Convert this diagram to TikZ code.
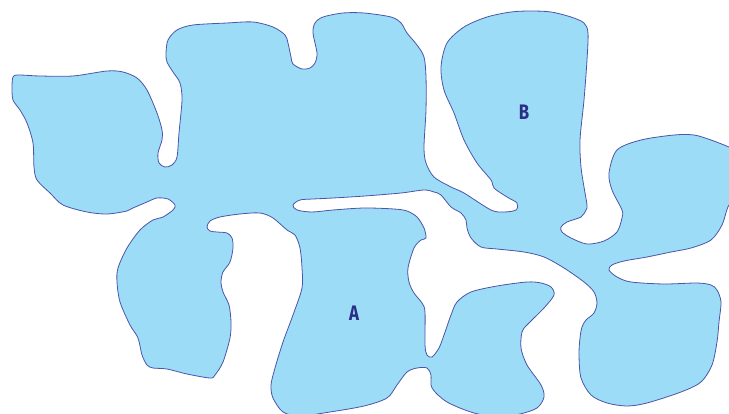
\documentclass[tikz,border=0pt]{standalone}
\usepackage{fontspec}
\newfontfamily\lblfont[FakeStretch=0.8]{Fira Sans}
\definecolor{waterfill}{HTML}{9DDCF7}
\definecolor{waterline}{HTML}{4A55A8}
\definecolor{lbltext}{HTML}{2A2E85}
\begin{document}
\begin{tikzpicture}[x=1pt,y=-1pt,
  water/.style={fill=waterfill,draw=waterline,line width=0.8pt,line join=round},
  lbl/.style={font=\lblfont\bfseries\fontsize{21}{21}\selectfont,text=lbltext,inner sep=0pt}]
\useasboundingbox (0,0) rectangle (729,414);
\clip (0,0) rectangle (729,414);
\draw[water] plot[smooth cycle,tension=0.5] coordinates {
(18,75)(40,76)(73,76)(107,71)(123,72)(137,78)(147,90)(157,113)(162,130)(162,140)(158,153)(159,163)(165,167)(172,165)(177,157)(179,133)(182,100)(180,83)(173,72)(167,62)(166,53)(168,40)(177,30)(193,25)(227,23)(253,22)(273,27)(285,35)(288,43)(291,57)(293,64)(302,69)(310,68)(315,63)(317,53)(313,33)(315,23)(323,17)(343,13)(364,13)(391,17)(401,23)(407,33)(417,45)(424,57)(426,77)(426,110)(424,147)(426,163)(434,177)(451,187)(464,193)(491,210)(504,212)(516,210)(517,203)(507,197)(494,188)(491,180)(477,163)(464,140)(454,113)(444,90)(441,67)(447,43)(464,27)(487,17)(511,12)(531,11)(551,12)(571,17)(584,23)(588,33)(587,60)(584,100)(580,140)(581,167)(584,187)(587,205)(586,210)(581,217)(567,222)(561,227)(562,232)(571,238)(587,244)(604,241)(617,232)(622,218)(622,210)(612,190)(609,173)(617,150)(641,140)(674,135)(694,135)(711,140)(729,147)(740,152)(740,200)(729,205)(722,225)(711,240)(691,248)(671,252)(647,257)(624,261)(612,265)(609,270)(617,277)(631,282)(664,284)(697,283)(711,285)(717,290)(721,302)(719,322)(717,342)(712,365)(701,382)(681,392)(647,403)(627,406)(607,403)(591,395)(581,378)(579,355)(580,338)(582,327)(586,320)(594,313)(597,303)(594,292)(584,282)(564,268)(544,257)(524,252)(497,249)(481,247)(471,238)(467,228)(466,220)(461,213)(451,207)(441,195)(434,192)(424,190)(401,193)(365,196)(333,198)(313,199)(300,200)(293,205)(297,210)(312,212)(333,210)(364,208)(394,209)(407,211)(417,217)(424,228)(426,238)(421,240)(414,248)(408,268)(409,282)(414,293)(422,303)(425,312)(425,345)(427,355)(432,357)(439,348)(444,335)(451,315)(457,302)(471,292)(497,286)(527,282)(541,283)(551,287)(554,295)(544,308)(527,325)(522,332)(521,348)(527,365)(541,385)(544,397)(537,408)(520,414)(500,417)(474,413)(447,402)(432,388)(431,375)(427,368)(417,368)(407,372)(397,385)(387,398)(364,406)(330,412)(300,416)(283,412)(273,398)(271,385)(275,368)(283,342)(293,315)(302,288)(302,268)(300,248)(295,235)(287,230)(273,218)(260,213)(240,214)(220,217)(210,221)(207,227)(210,231)(217,232)(227,233)(232,238)(233,248)(230,262)(223,272)(221,282)(223,292)(229,305)(231,322)(230,338)(223,362)(215,375)(210,378)(187,374)(167,369)(153,368)(147,365)(142,355)(138,338)(130,325)(120,302)(117,282)(118,268)(127,248)(140,230)(153,220)(163,217)(173,210)(175,205)(168,199)(157,198)(147,202)(133,208)(127,211)(107,214)(87,212)(63,205)(50,193)(37,180)(34,167)(33,143)(27,123)(20,110)(13,100)(12,87)(13,77)};
\node[lbl] (labelA) at (354,313.5) {A};
\node[lbl] (labelB) at (524,112.5) {B};
\end{tikzpicture}
\end{document}
